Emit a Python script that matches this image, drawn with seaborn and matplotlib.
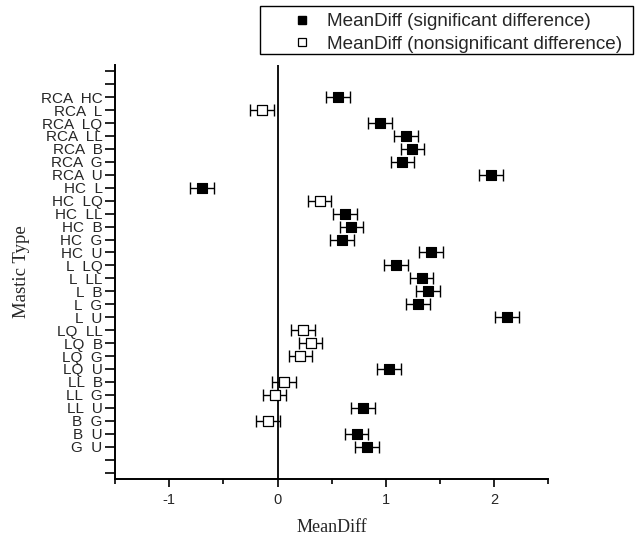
import matplotlib
matplotlib.use("Agg")
import matplotlib.pyplot as plt
from matplotlib.lines import Line2D
from matplotlib.patches import Rectangle
import seaborn as sns
import pandas as pd

# ---- data ----
categories = ["", "", "RCA  HC", "RCA  L", "RCA  LQ", "RCA  LL", "RCA  B", "RCA  G", "RCA  U",
              "HC  L", "HC  LQ", "HC  LL", "HC  B", "HC  G", "HC  U",
              "L  LQ", "L  LL", "L  B", "L  G", "L  U",
              "LQ  LL", "LQ  B", "LQ  G", "LQ  U",
              "LL  B", "LL  G", "LL  U",
              "B  G", "B  U", "G  U", " ", "  "]
pairs = ["RCA  HC", "RCA  L", "RCA  LQ", "RCA  LL", "RCA  B", "RCA  G", "RCA  U",
         "HC  L", "HC  LQ", "HC  LL", "HC  B", "HC  G", "HC  U",
         "L  LQ", "L  LL", "L  B", "L  G", "L  U",
         "LQ  LL", "LQ  B", "LQ  G", "LQ  U",
         "LL  B", "LL  G", "LL  U",
         "B  G", "B  U", "G  U"]
mean_diff = [0.56, -0.14, 0.945, 1.185, 1.246, 1.154, 1.973,
             -0.70, 0.388, 0.62, 0.683, 0.594, 1.416,
             1.093, 1.33, 1.39, 1.30, 2.12,
             0.237, 0.305, 0.212, 1.03,
             0.062, -0.028, 0.79,
             -0.09, 0.73, 0.825]
err = [0.11, 0.11, 0.11, 0.11, 0.11, 0.11, 0.11,
       0.11, 0.11, 0.11, 0.11, 0.11, 0.11,
       0.11, 0.11, 0.11, 0.11, 0.11,
       0.11, 0.11, 0.11, 0.11,
       0.11, 0.11, 0.11,
       0.11, 0.11, 0.11]
significant = [True, False, True, True, True, True, True,
               True, False, True, True, True, True,
               True, True, True, True, True,
               False, False, False, True,
               False, False, True,
               False, True, True]
x_major = [-1, 0, 1, 2]
x_major_labels = ["-1", "0", "1", "2"]
x_minor = [-1.5, -0.5, 0.5, 1.5, 2.5]
legend_labels = ["MeanDiff (significant difference)",
                 "MeanDiff (nonsignificant difference)"]

df = pd.DataFrame({"pair": pairs, "diff": mean_diff, "err": err, "sig": significant})
df["pos"] = [categories.index(p) for p in pairs]

sns.set_theme(style="white")
plt.rcParams["font.family"] = ["Liberation Sans", "DejaVu Sans"]

fig = plt.figure(figsize=(6.36, 5.4), dpi=100)
ax = fig.add_axes([0.181, 0.113, 0.681, 0.767])

ax.axvline(0, color="black", lw=1.3, zorder=1)

ax.errorbar(df["diff"], df["pos"], xerr=df["err"], fmt="none", ecolor="black",
            elinewidth=1.0, capsize=4.5, capthick=1.0, zorder=2)

sig_df = df[df["sig"]]
ns_df = df[~df["sig"]]
sns.scatterplot(data=sig_df, x="diff", y="pos", marker="s", s=60, color="black",
                edgecolor="black", linewidth=0.8, ax=ax, zorder=3, legend=False)
sns.scatterplot(data=ns_df, x="diff", y="pos", marker="s", s=60, color="white",
                edgecolor="black", linewidth=0.9, ax=ax, zorder=3, legend=False)

ax.set_xlim(-1.5, 2.5)
ax.set_ylim(len(categories) - 0.5, -0.5)
ax.set_yticks(range(len(categories)))
ax.set_yticklabels(categories, fontsize=11)
ax.set_xticks(x_major)
ax.set_xticklabels(x_major_labels, fontsize=10.5)
ax.set_xticks(x_minor, minor=True)

for s in ["top", "right"]:
    ax.spines[s].set_visible(False)
for s in ["left", "bottom"]:
    ax.spines[s].set_color("black")
    ax.spines[s].set_linewidth(1.4)
ax.tick_params(axis="y", direction="out", length=7, width=1.2, color="black",
               left=True, pad=2)
ax.tick_params(axis="x", which="major", direction="out", length=6, width=1.2,
               color="black", bottom=True, pad=4)
ax.tick_params(axis="x", which="minor", direction="out", length=3.5, width=1.2,
               color="black", bottom=True)

ax.set_xlabel("MeanDiff", family=["Liberation Serif", "DejaVu Serif"], fontsize=13, labelpad=9)
ax.set_ylabel("Mastic Type", family=["Liberation Serif", "DejaVu Serif"], fontsize=13.5, labelpad=8)

handles = [Line2D([], [], marker="s", linestyle="none", markersize=6,
                  markerfacecolor="black", markeredgecolor="black"),
           Line2D([], [], marker="s", linestyle="none", markersize=5.5,
                  markerfacecolor="white", markeredgecolor="black", markeredgewidth=0.9)]
leg = fig.legend(handles, legend_labels,
                 loc="upper left", bbox_to_anchor=(292.5 / 636, 1 - 13 / 540), fontsize=13.6,
                 frameon=False, borderpad=0, handletextpad=0.83, labelspacing=0.27,
                 handlelength=1.0, borderaxespad=0)
fig.patches.append(Rectangle((260 / 636, 1 - 54 / 540), 373 / 636, 48 / 540,
                             transform=fig.transFigure, fill=False,
                             edgecolor="black", linewidth=1.0))

fig.savefig("out.png", dpi=100)
